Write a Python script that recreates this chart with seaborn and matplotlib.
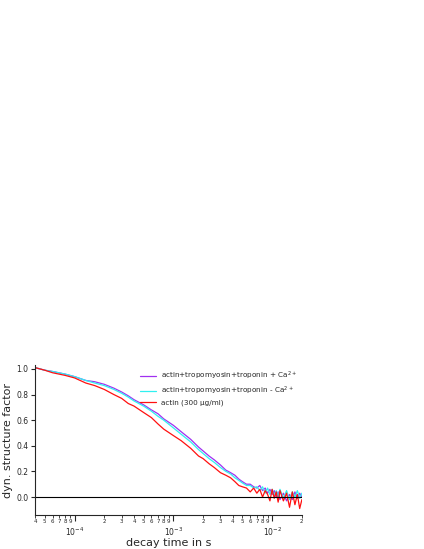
import matplotlib
matplotlib.use("Agg")
import math
import matplotlib.pyplot as plt
import matplotlib.ticker as mt
import seaborn as sns
import pandas as pd

t = [4e-5, 5e-5, 6e-5, 8e-5, 1e-4, 1.3e-4, 1.6e-4, 2e-4, 2.5e-4, 3e-4, 3.5e-4, 4e-4, 5e-4, 6e-4, 7e-4, 8e-4,
     1e-3, 1.2e-3, 1.5e-3, 1.8e-3, 2e-3, 2.3e-3, 2.6e-3, 3e-3, 3.4e-3, 3.8e-3, 4.2e-3, 4.6e-3, 5e-3, 5.5e-3,
     6e-3, 6.5e-3, 7e-3, 7.5e-3, 8e-3, 8.5e-3, 9e-3, 9.5e-3, 1e-2, 1.05e-2, 1.1e-2, 1.15e-2, 1.2e-2, 1.3e-2,
     1.4e-2, 1.5e-2, 1.6e-2, 1.7e-2, 1.8e-2, 1.9e-2, 2e-2]
plus_ca = [1.01, 0.99, 0.98, 0.96, 0.94, 0.91, 0.90, 0.88, 0.85, 0.82, 0.79, 0.76, 0.72, 0.68, 0.65, 0.61,
           0.56, 0.51, 0.45, 0.39, 0.36, 0.32, 0.29, 0.25, 0.21, 0.19, 0.17, 0.14, 0.12, 0.10,
           0.10, 0.08, 0.07, 0.09, 0.05, 0.07, 0.03, 0.06, 0.02, 0.05, 0.00, 0.04, -0.02, 0.03,
           -0.03, 0.02, -0.02, 0.04, -0.01, 0.03, 0.00]
minus_ca = [1.01, 0.99, 0.98, 0.96, 0.94, 0.91, 0.89, 0.87, 0.84, 0.81, 0.78, 0.75, 0.71, 0.67, 0.63, 0.60,
            0.54, 0.49, 0.43, 0.37, 0.34, 0.30, 0.27, 0.23, 0.20, 0.18, 0.15, 0.13, 0.11, 0.09,
            0.09, 0.07, 0.08, 0.05, 0.08, 0.03, 0.07, 0.02, 0.06, 0.01, 0.05, 0.00, 0.06, -0.01,
            0.05, -0.02, 0.04, 0.00, 0.05, -0.01, 0.03]
actin = [1.01, 0.99, 0.97, 0.95, 0.93, 0.89, 0.87, 0.84, 0.80, 0.77, 0.73, 0.71, 0.66, 0.62, 0.57, 0.53,
         0.48, 0.44, 0.38, 0.32, 0.30, 0.26, 0.23, 0.19, 0.17, 0.15, 0.12, 0.09, 0.08, 0.07,
         0.04, 0.07, 0.03, 0.06, 0.00, 0.05, 0.02, -0.03, 0.06, -0.01, 0.04, -0.04, 0.05, -0.03,
         0.03, -0.08, 0.04, -0.06, 0.02, -0.09, -0.02]
labels = ["actin+tropomyosin+troponin + Ca$^{2+}$", "actin+tropomyosin+troponin - Ca$^{2+}$", "actin (300 µg/ml)"]
colors = ["#a030f0", "#30f0f0", "#ff1010"]

sns.set_style("ticks")
fig = plt.figure(figsize=(4.24, 5.49), dpi=100)
ax = fig.add_axes([0.083, 0.062, 0.629, 0.273])
for vals, lab, c in zip([plus_ca, minus_ca, actin], labels, colors):
    df = pd.DataFrame({"t": t, "g": vals})
    sns.lineplot(data=df, x="t", y="g", ax=ax, color=c, label=lab, lw=0.9)
ax.set_xscale("log")
ax.set_xlim(4e-5, 2e-2)
ax.set_ylim(-0.14, 1.03)
ax.axhline(0, color="black", lw=0.8)
ax.yaxis.set_major_locator(mt.MultipleLocator(0.2))
ax.yaxis.set_major_formatter(mt.FormatStrFormatter("%.1f"))
ax.xaxis.set_minor_locator(mt.LogLocator(subs=range(2, 10)))
ax.xaxis.set_minor_formatter(mt.FuncFormatter(lambda v, p: f"{round(v / 10**math.floor(math.log10(v)))}"))
ax.tick_params(axis="x", which="minor", labelsize=4, length=2, pad=1)
ax.tick_params(axis="x", which="major", labelsize=5.5, length=4, pad=4)
ax.tick_params(axis="y", labelsize=5.5, length=3, pad=2)
for s in ["top", "right"]:
    ax.spines[s].set_visible(False)
ax.set_xlabel("decay time in s", fontsize=8, labelpad=0)
ax.set_ylabel("dyn. structure factor", fontsize=8, labelpad=2)
ax.legend(loc="upper right", fontsize=5.2, frameon=False, handlelength=2.2, borderaxespad=0.2, labelspacing=0.4)
fig.savefig("out.png", dpi=100)
